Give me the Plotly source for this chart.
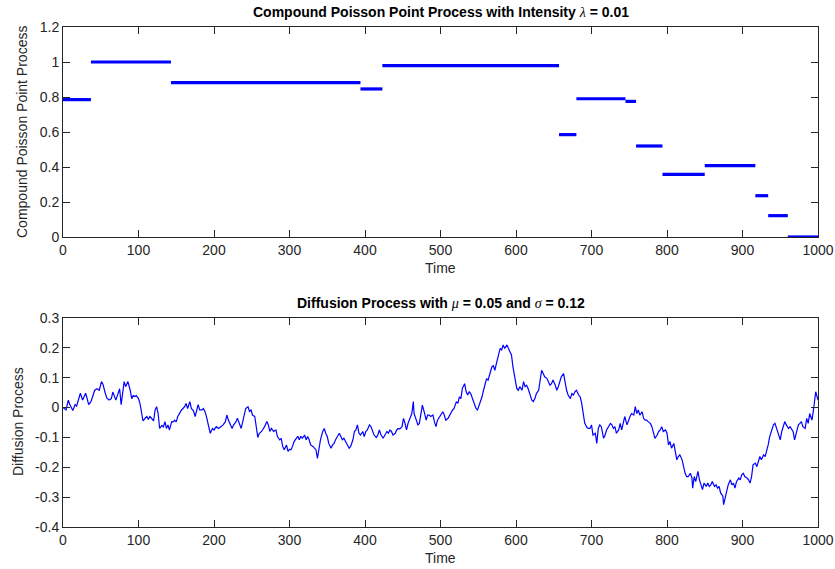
import plotly.graph_objects as go

# ---------------- data ----------------
# Compound Poisson point process: piecewise-constant segments
seg_start = [0, 37, 143, 394, 423, 657, 680, 745, 759, 794, 850, 917, 934, 960]
seg_end   = [37, 143, 394, 423, 657, 680, 745, 759, 794, 850, 917, 934, 960, 1000]
seg_value = [0.785, 1.0, 0.882, 0.846, 0.979, 0.585, 0.790, 0.775, 0.52, 0.358, 0.408, 0.236, 0.122, 0.0]

# Diffusion process
diff_t = [0, 4, 7, 9, 13, 16, 18, 21, 23, 26, 28, 30, 32, 34, 37, 40, 42, 45, 48, 51, 53, 56, 58, 61, 64,
          66, 68, 70, 72, 75, 77, 79, 81, 83, 86, 89, 91, 93, 95, 97, 100, 102, 104, 106, 109, 111, 113,
          115, 117, 120, 122, 124, 126, 128, 131, 133, 135, 137, 139, 141, 144, 146, 148, 150, 152, 155,
          157, 159, 161, 163, 165, 168, 170, 173, 175, 177, 179, 181, 184, 186, 188, 190, 193, 195, 198,
          200, 203, 206, 209, 212, 215, 217, 219, 221, 224, 226, 229, 231, 233, 236, 238, 240, 242, 245,
          247, 249, 251, 254, 256, 258, 260, 263, 267, 270, 272, 274, 276, 279, 282, 284, 287, 289, 291,
          293, 296, 298, 300, 302, 304, 306, 309, 311, 313, 315, 317, 320, 322, 324, 326, 328, 331, 333,
          335, 337, 339, 341, 344, 346, 348, 350, 352, 355, 357, 359, 361, 363, 366, 368, 370, 372, 375,
          377, 379, 381, 384, 386, 388, 390, 392, 394, 397, 399, 401, 403, 406, 408, 410, 412, 415, 417,
          419, 421, 424, 426, 429, 431, 433, 435, 437, 440, 442, 444, 446, 449, 451, 453, 455, 457, 460,
          462, 464, 465, 468, 470, 472, 474, 476, 479, 481, 483, 485, 487, 490, 492, 494, 496, 499, 501,
          503, 505, 507, 510, 512, 514, 516, 518, 521, 523, 525, 527, 529, 532, 534, 536, 538, 540, 543,
          545, 547, 549, 551, 553, 555, 557, 559, 561, 563, 566, 568, 570, 572, 574, 577, 579, 581, 583,
          585, 588, 590, 592, 594, 596, 599, 601, 603, 605, 608, 610, 612, 614, 616, 619, 621, 623, 625,
          627, 630, 632, 634, 636, 638, 641, 643, 645, 647, 649, 652, 654, 656, 658, 660, 663, 665, 667,
          669, 672, 674, 676, 678, 680, 683, 685, 687, 689, 691, 694, 696, 698, 700, 702, 705, 707, 709,
          711, 713, 716, 718, 720, 722, 725, 727, 729, 731, 733, 736, 738, 740, 742, 744, 747, 749, 751,
          753, 756, 758, 760, 762, 764, 767, 769, 771, 773, 775, 778, 780, 782, 784, 787, 789, 791, 793,
          795, 798, 800, 802, 804, 806, 809, 811, 813, 815, 817, 820, 822, 824, 826, 828, 831, 833, 834,
          836, 838, 841, 843, 845, 847, 849, 852, 854, 856, 858, 860, 863, 865, 867, 869, 871, 874, 875,
          877, 879, 881, 884, 886, 888, 890, 892, 895, 897, 899, 901, 903, 906, 908, 910, 912, 914, 917,
          919, 921, 923, 925, 928, 930, 932, 934, 936, 939, 941, 943, 945, 947, 950, 952, 954, 956, 958,
          961, 963, 965, 967, 969, 972, 974, 976, 978, 980, 983, 985, 987, 989, 992, 994, 996, 997, 1000]
diff_v = [0.0, -0.008, 0.025, 0.01, -0.01, 0.01, 0.005, 0.032, 0.048, 0.025, 0.04, 0.048, 0.03, 0.01, 0.02,
          0.048, 0.058, 0.063, 0.058, 0.087, 0.077, 0.048, 0.032, 0.025, 0.03, 0.052, 0.037, 0.025, 0.04,
          0.063, 0.01, 0.052, 0.087, 0.07, 0.087, 0.058, 0.03, 0.04, 0.037, 0.04, 0.03, 0.013, -0.012,
          -0.045, -0.035, -0.03, -0.04, -0.03, -0.035, -0.045, -0.008, 0.003, -0.02, -0.07, -0.06, -0.065,
          -0.047, -0.07, -0.058, -0.075, -0.047, -0.048, -0.042, -0.048, -0.03, -0.014, -0.008, -0.003,
          0.003, 0.014, -0.003, 0.02, -0.003, -0.012, -0.03, -0.01, 0.01, -0.008, -0.008, -0.003, -0.013,
          -0.03, -0.064, -0.086, -0.07, -0.075, -0.064, -0.07, -0.064, -0.058, -0.048, -0.025, -0.042,
          -0.053, -0.07, -0.058, -0.048, -0.036, -0.048, -0.07, -0.048, -0.02, -0.003, 0.003, -0.013,
          -0.008, -0.025, -0.03, -0.064, -0.1, -0.086, -0.08, -0.064, -0.047, -0.058, -0.08, -0.07, -0.08,
          -0.075, -0.097, -0.108, -0.103, -0.13, -0.141, -0.125, -0.147, -0.14, -0.141, -0.13, -0.114,
          -0.103, -0.096, -0.108, -0.096, -0.103, -0.092, -0.108, -0.097, -0.108, -0.125, -0.13, -0.136,
          -0.141, -0.17, -0.13, -0.108, -0.08, -0.07, -0.086, -0.097, -0.12, -0.136, -0.125, -0.12, -0.108,
          -0.097, -0.086, -0.097, -0.108, -0.103, -0.117, -0.13, -0.136, -0.13, -0.108, -0.08, -0.075,
          -0.058, -0.086, -0.092, -0.08, -0.097, -0.08, -0.075, -0.058, -0.064, -0.08, -0.092, -0.1, -0.092,
          -0.075, -0.09, -0.103, -0.092, -0.08, -0.086, -0.075, -0.08, -0.092, -0.086, -0.075, -0.07,
          -0.072, -0.064, -0.036, -0.053, -0.075, -0.053, -0.036, -0.02, 0.02, -0.02, -0.042, -0.058,
          -0.053, -0.025, 0.008, -0.02, -0.042, -0.025, -0.025, -0.03, -0.025, -0.048, -0.064, -0.042,
          -0.03, -0.025, -0.014, -0.025, -0.042, -0.036, -0.025, -0.02, -0.008, -0.003, 0.02, 0.014, 0.036,
          0.03, 0.065, 0.08, 0.053, 0.042, 0.053, 0.047, 0.025, 0.014, -0.003, -0.008, 0.008, 0.016, 0.036,
          0.058, 0.075, 0.097, 0.092, 0.12, 0.136, 0.14, 0.125, 0.147, 0.18, 0.198, 0.193, 0.21, 0.198,
          0.21, 0.198, 0.187, 0.176, 0.136, 0.092, 0.064, 0.058, 0.07, 0.058, 0.087, 0.07, 0.075, 0.064,
          0.042, 0.025, 0.02, 0.03, 0.047, 0.058, 0.092, 0.125, 0.114, 0.103, 0.097, 0.087, 0.075, 0.08,
          0.092, 0.075, 0.058, 0.07, 0.092, 0.103, 0.114, 0.08, 0.058, 0.042, 0.03, 0.047, 0.042, 0.053,
          0.058, 0.042, 0.036, 0.014, -0.019, -0.052, -0.067, -0.07, -0.07, -0.058, -0.092, -0.086, -0.12,
          -0.07, -0.058, -0.064, -0.103, -0.092, -0.075, -0.064, -0.053, -0.058, -0.07, -0.064, -0.086,
          -0.075, -0.053, -0.075, -0.047, -0.03, -0.058, -0.042, -0.03, -0.02, -0.025, 0.003, -0.02,
          -0.008, -0.025, -0.014, -0.036, -0.042, -0.042, -0.047, -0.053, -0.064, -0.086, -0.103, -0.092,
          -0.08, -0.075, -0.064, -0.08, -0.075, -0.086, -0.125, -0.114, -0.136, -0.12, -0.147, -0.175,
          -0.164, -0.158, -0.175, -0.203, -0.22, -0.231, -0.231, -0.22, -0.236, -0.27, -0.231, -0.248,
          -0.214, -0.242, -0.259, -0.275, -0.253, -0.264, -0.253, -0.264, -0.259, -0.248, -0.264, -0.259,
          -0.27, -0.264, -0.286, -0.297, -0.325, -0.303, -0.281, -0.259, -0.242, -0.259, -0.253, -0.27,
          -0.248, -0.236, -0.242, -0.225, -0.22, -0.231, -0.236, -0.242, -0.253, -0.231, -0.192, -0.186,
          -0.198, -0.181, -0.164, -0.175, -0.158, -0.164, -0.147, -0.125, -0.097, -0.075, -0.058, -0.053,
          -0.07, -0.086, -0.108, -0.08, -0.058, -0.047, -0.058, -0.07, -0.064, -0.075, -0.08, -0.108, -0.08,
          -0.058, -0.053, -0.047, -0.064, -0.07, -0.036, -0.053, -0.02, -0.042, -0.008, 0.036, 0.053, 0.025]

x_tickvals = [0, 100, 200, 300, 400, 500, 600, 700, 800, 900, 1000]
y1_tickvals = [0, 0.2, 0.4, 0.6, 0.8, 1.0, 1.2]
y1_ticktext = ["0", "0.2", "0.4", "0.6", "0.8", "1", "1.2"]
y2_tickvals = [-0.4, -0.3, -0.2, -0.1, 0, 0.1, 0.2, 0.3]
y2_ticktext = ["-0.4", "-0.3", "-0.2", "-0.1", "0", "0.1", "0.2", "0.3"]

title_top = "<b>Compound Poisson Point Process with Intensity </b><span style='font-family:Liberation Serif;font-style:italic'>λ</span><b> = 0.01</b>"
title_bot = "<b>Diffusion Process with </b><span style='font-family:Liberation Serif;font-style:italic'>μ</span><b> = 0.05 and </b><span style='font-family:Liberation Serif;font-style:italic'>σ</span><b> = 0.12</b>"

# ---------------- figure ----------------
seg_x, seg_y = [], []
for s, e, v in zip(seg_start, seg_end, seg_value):
    seg_x += [s, e, None]
    seg_y += [v, v, None]

fig = go.Figure()
fig.add_trace(go.Scatter(x=seg_x, y=seg_y, mode="lines", line=dict(color="#0000FF", width=3.2),
                         xaxis="x", yaxis="y", showlegend=False, hoverinfo="skip"))
fig.add_trace(go.Scatter(x=diff_t, y=diff_v, mode="lines", line=dict(color="#0000FF", width=1.2),
                         xaxis="x2", yaxis="y2", showlegend=False))

axis_common = dict(showgrid=False, zeroline=False, showline=True, mirror="ticks", linecolor="#262626",
                   linewidth=1, ticks="inside", ticklen=7, tickwidth=1, tickcolor="#262626",
                   automargin=False,
                   tickfont=dict(family="Liberation Sans Narrow, Liberation Sans, Arial", size=14, color="#262626"))

fig.update_layout(
    width=835, height=569,
    margin=dict(l=63, r=17, t=27, b=42),
    paper_bgcolor="white", plot_bgcolor="white",
    xaxis=dict(domain=[0, 1], range=[0, 1000], tickvals=x_tickvals, anchor="y", **axis_common),
    yaxis=dict(domain=[0.58, 1.0], range=[0, 1.2], tickvals=y1_tickvals, ticktext=y1_ticktext,
               anchor="x", **axis_common),
    xaxis2=dict(domain=[0, 1], range=[0, 1000], tickvals=x_tickvals, anchor="y2", **axis_common),
    yaxis2=dict(domain=[0, 0.418], range=[-0.4, 0.3], tickvals=y2_tickvals, ticktext=y2_ticktext,
                anchor="x2", **axis_common),
)

lab_font = dict(family="Liberation Sans, Arial", size=14, color="#262626")
annots = [
    dict(text=title_top, x=0.5, y=1.03, xref="paper", yref="paper", showarrow=False,
         xanchor="center", yanchor="middle", font=dict(family="Liberation Sans, Arial", size=14, color="black")),
    dict(text=title_bot, x=0.5, y=0.448, xref="paper", yref="paper", showarrow=False,
         xanchor="center", yanchor="middle", font=dict(family="Liberation Sans, Arial", size=14, color="black")),
    dict(text="Time", x=0.5, y=0.518, xref="paper", yref="paper", showarrow=False,
         xanchor="center", yanchor="middle", font=lab_font),
    dict(text="Time", x=0.5, y=-0.062, xref="paper", yref="paper", showarrow=False,
         xanchor="center", yanchor="middle", font=lab_font),
    dict(text="Compound Poisson Point Process", x=-0.0543, y=0.79, xref="paper", yref="paper",
         showarrow=False, textangle=-90, xanchor="center", yanchor="middle", font=lab_font),
    dict(text="Diffusion Process", x=-0.0596, y=0.21, xref="paper", yref="paper",
         showarrow=False, textangle=-90, xanchor="center", yanchor="middle", font=lab_font),
]
fig.update_layout(annotations=annots)

fig.write_html("out.html")
